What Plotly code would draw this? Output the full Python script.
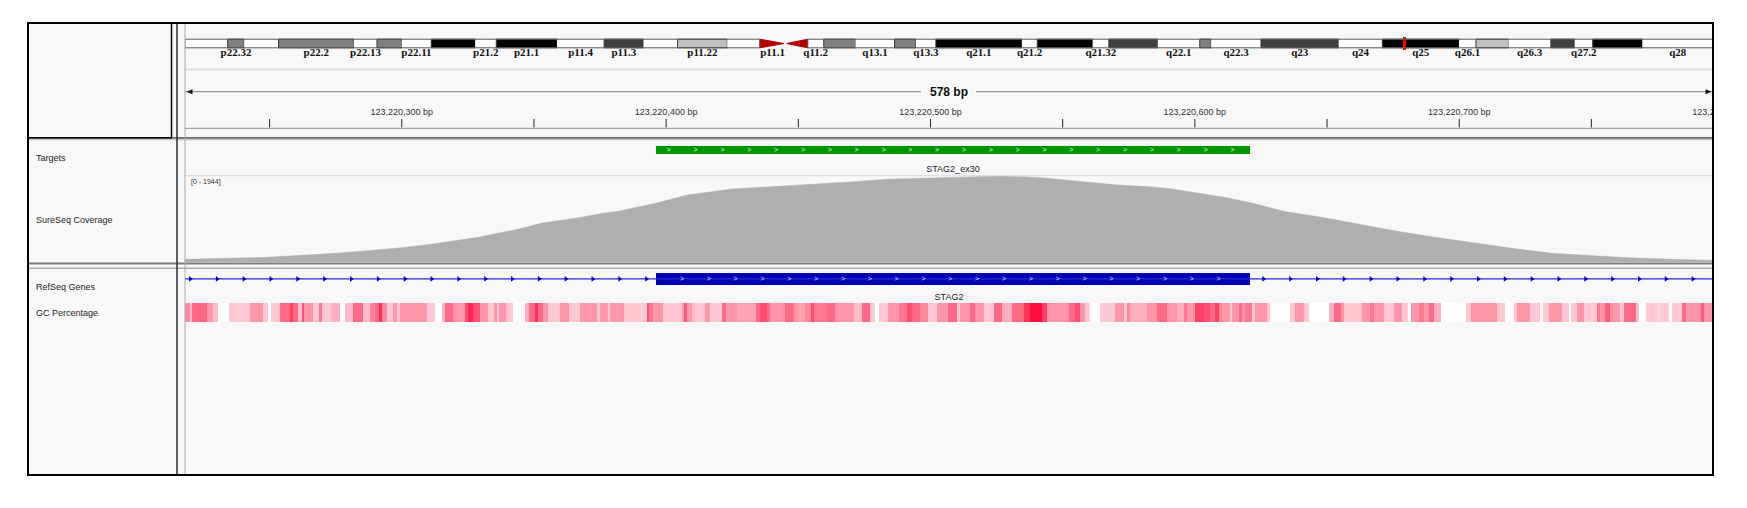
import numpy as np
import plotly.graph_objects as go

W, H = 1747, 508

# ---------------- data ----------------
VIEW_START = 123220218
VIEW_END = 123220796
CHROM_LEN = 156.0  # Mb, ideogram scale

# cytobands (Mb)
band_start = [0, 4.36, 6.05, 9.55, 17.25, 19.6, 22.13, 25.14, 29.63, 31.78,
              37.99, 42.79, 46.81, 50.29, 55.36, 58.69, 61.28, 63.57, 65.21, 68.45,
              72.44, 74.63, 76.66, 85.45, 87.01, 92.68, 94.32, 99.32, 103.6, 104.77,
              109.85, 117.78, 122.24, 130.08, 131.8, 135.12, 139.45, 141.88, 143.72, 148.79]
band_stain = ['gneg', 'gpos50', 'gneg', 'gpos50', 'gneg', 'gpos50', 'gneg', 'gpos100', 'gneg', 'gpos100',
              'gneg', 'gpos75', 'gneg', 'gpos25', 'gneg', 'acen', 'acen', 'gneg', 'gpos50', 'gneg',
              'gpos50', 'gneg', 'gpos100', 'gneg', 'gpos100', 'gneg', 'gpos75', 'gneg', 'gpos50', 'gneg',
              'gpos75', 'gneg', 'gpos100', 'gneg', 'gpos25', 'gneg', 'gpos75', 'gneg', 'gpos100', 'gneg']
band_name = ['', 'p22.32', '', 'p22.2', 'p22.13', '', 'p22.11', '', 'p21.2', 'p21.1',
             'p11.4', 'p11.3', '', 'p11.22', '', 'p11.1', '', 'q11.2', '', 'q13.1',
             '', 'q13.3', 'q21.1', 'q21.2', '', 'q21.32', '', 'q22.1', '', 'q22.3',
             'q23', 'q24', 'q25', 'q26.1', '', 'q26.3', '', 'q27.2', '', 'q28']
band_end = band_start[1:] + [CHROM_LEN]
locus_marker = [124.3, 124.7]

# coverage (offset from view start in bp, depth)
COV_MAX = 1944
cov_offset = [0, 10, 20, 31, 46, 57, 69, 75, 82, 93, 98, 111, 115, 126, 135, 149, 157, 164, 178, 190,
              207, 222, 236, 253, 265, 280, 294, 309, 323, 337, 352, 365, 372, 380, 394, 404, 416, 430,
              444, 458, 474, 488, 502, 517, 531, 546, 560, 578]
cov_value = [60, 75, 84, 106, 158, 196, 255, 287, 323, 400, 440, 560, 610, 740, 880, 1001, 1092, 1150, 1327, 1514,
             1650, 1702, 1763, 1815, 1869, 1900, 1925, 1944, 1910, 1835, 1745, 1702, 1660, 1589, 1453, 1327, 1140, 1010,
             850, 700, 549, 422, 310, 196, 142, 97, 68, 35]

# features
target_name = "STAG2_ex30"
target_start, target_end = 123220396, 123220621
gene_name = "STAG2"
exon_start, exon_end = 123220396, 123220621

# GC percentage segments (offset from view start in bp, shade level 0..1; 0 = no colour)
gc_offset = [0, 1.9, 2.5, 8.2, 10.7, 12.4, 16.6, 24.6, 29.6, 31.5, 32.5, 35.9, 39.7, 41.0, 42.9, 44.1, 45.0,
             48.6, 50.8, 52.0, 55.5, 58.7, 60.5, 63.7, 67.5, 70.0, 71.9, 73.5, 74.7, 76.3, 78.8, 80.1, 81.4,
             91.4, 94.6, 97.1, 98.4, 101.5, 105.9, 107.2, 109.1, 111.6, 114.8, 116.7, 117.9, 118.6, 121.5,
             123.9, 128.7, 130.3, 132.4, 133.7, 135.6, 137.5, 141.9, 145.1, 149.5, 155.8, 157.0, 159.9, 160.8,
             165.9, 174.7, 175.7, 176.9, 181.0, 187.9, 188.8, 189.8, 191.8, 193.0, 196.8, 198.7, 203.1, 204.7,
             208.7, 216.1, 217.6, 220.1, 221.4, 227.0, 230.2, 232.1, 234.6, 236.8, 238.0, 242.8, 246.0, 252.9,
             256.1, 259.2, 261.1, 262.4, 266.1, 269.9, 273.1, 275.0, 278.1, 280.9, 284.4, 288.8, 292.0, 293.3,
             297.0, 298.9, 302.1, 305.9, 309.0, 312.8, 317.2, 319.8, 324.2, 326.1, 334.3, 336.8, 338.7, 340.6,
             342.2, 346.2, 351.9, 355.1, 356.3, 357.6, 363.9, 367.7, 371.5, 375.2, 377.8, 379.0, 382.2, 385.3,
             387.9, 389.8, 391.0, 392.3, 395.4, 396.1, 398.6, 399.9, 401.1, 403.6, 404.9, 409.3, 410.6, 418.1,
             420.0, 423.2, 425.1, 432.6, 434.5, 437.1, 438.3, 445.3, 448.4, 449.7, 453.5, 457.2, 460.4, 462.5,
             463.8, 466.7, 468.6, 470.5, 472.4, 475.1, 484.4, 486.5, 496.3, 499.5, 502.6, 503.9, 508.7, 512.7,
             513.7, 515.9, 520.9, 523.5, 524.3, 526.4, 529.1, 534.2, 535.4, 537.3, 539.0, 542.8, 544.3, 548.7,
             550.0, 552.5, 556.9, 558.2, 561.3, 562.6, 566.4, 567.6, 573.3, 574.6]
gc_level = [.5, .3, .6, .45, .3, 0, .25, .45, .25, 0, .25, .6, .75, .6, .3, .7, .45,
            .25, .55, .25, .35, 0, .3, .6, .3, .5, .6, .8, .5, .25, .45, .25, .45,
            .25, 0, .35, .6, .45, .7, .85, .7, .45, .25, .45, .25, .45, .25,
            0, .35, .6, .8, .6, .45, .25, .45, .25, .45, .25, .45, .25, .45,
            .25, .7, .55, .45, .25, .45, .65, .45, .3, .25, .45, .25, .6, .45,
            .4, .6, .7, .6, .45, .6, .45, .4, .5, .7, .55, .6, .45, .3,
            .6, .25, 0, .25, .45, .55, .7, .6, .5, .25, .45, .6, .25, .45,
            .6, .45, .25, .6, .35, .6, .8, .95, .75, .45, .6, .7, .45, .25,
            0, .25, .45, .25, .5, .35, .45, .6, .45, .35, .55, .45, .75, .7,
            .6, .75, .5, .45, .25, .45, .6, .45, .55, .25, .45, .25, 0, .25,
            .45, .25, 0, .35, .6, .45, .25, .45, .55, .45, .25, .45, .25, 0,
            .45, .55, .45, .6, .35, 0, .25, .45, .25, 0, .25, .45, .25, 0,
            .25, .45, .25, 0, .25, .45, .25, .55, .45, .65, .45, .25, .6, .3,
            0, .25, .2, .25, 0, .25, .6, .45, .65, .45]

track_names = ["Targets", "SureSeq Coverage", "RefSeq Genes", "GC Percentage"]

# ---------------- layout helpers ----------------
def px_x(p):
    return p / W


def px_y(p):
    return 1 - p / H


DATA_L, DATA_R = 185, 1713
BOX_L, BOX_R, BOX_T, BOX_B = 28, 1713, 23, 475
BG = '#f8f8f8'
SANS = 'Liberation Sans, Arial, sans-serif'

IDEO_T, IDEO_B = 39.2, 47.8
IDEO_C = (IDEO_T + IDEO_B) / 2

fig = go.Figure()

# ---------------- ideogram ----------------
stain_color = {'gneg': '#ffffff', 'gpos25': '#c0c0c0', 'gpos50': '#808080',
               'gpos75': '#404040', 'gpos100': '#000000'}
idx = [i for i, s in enumerate(band_stain) if s != 'acen']
fig.add_trace(go.Bar(
    orientation='h',
    base=[band_start[i] for i in idx],
    x=[band_end[i] - band_start[i] for i in idx],
    y=[IDEO_C] * len(idx), width=IDEO_B - IDEO_T,
    marker=dict(color=[stain_color[band_stain[i]] for i in idx],
                line=dict(color=['rgba(0,0,0,0)' if band_stain[i] == 'gneg' else '#383838' for i in idx],
                          width=1)),
    xaxis='x2', yaxis='y', hoverinfo='skip'))

acen = [i for i, s in enumerate(band_stain) if s == 'acen']
p_cen, q_cen = acen[0], acen[1]
fig.add_trace(go.Scatter(
    x=[band_start[p_cen], band_end[p_cen] - 0.15, band_start[p_cen], band_start[p_cen], None,
       band_end[q_cen], band_start[q_cen] + 0.15, band_end[q_cen], band_end[q_cen]],
    y=[IDEO_T, IDEO_C, IDEO_B, IDEO_T, None, IDEO_T, IDEO_C, IDEO_B, IDEO_T],
    mode='lines', fill='toself', fillcolor='#b40000', line=dict(color='#b40000', width=1),
    xaxis='x2', yaxis='y', hoverinfo='skip'))

fig.add_trace(go.Bar(
    orientation='h', base=[locus_marker[0]], x=[locus_marker[1] - locus_marker[0]],
    y=[IDEO_C], width=13, marker=dict(color='#ff0000', line=dict(width=0)),
    xaxis='x2', yaxis='y', hoverinfo='skip'))

lab_idx = [i for i, n in enumerate(band_name) if n]
fig.add_trace(go.Scatter(
    x=[(band_start[i] + band_end[i]) / 2 for i in lab_idx], y=[53.5] * len(lab_idx),
    mode='text', text=['<b>' + band_name[i] + '</b>' for i in lab_idx],
    textfont=dict(family='Liberation Serif, DejaVu Serif, serif', size=11, color='#111111'),
    textposition='middle center', xaxis='x2', yaxis='y', hoverinfo='skip', cliponaxis=True))

# ---------------- ruler ----------------
tick_pos = np.arange(int(np.ceil(VIEW_START / 50) * 50), VIEW_END + 1, 50)
tx, ty = [], []
for p in tick_pos:
    tx += [p, p, None]
    ty += [119, 127.5, None]
fig.add_trace(go.Scatter(x=tx, y=ty, mode='lines', line=dict(color='#222222', width=1),
                         xaxis='x', yaxis='y', hoverinfo='skip'))
lab_pos = np.arange(int(np.ceil(VIEW_START / 100) * 100), VIEW_END + 100, 100)
fig.add_trace(go.Scatter(
    x=lab_pos, y=[112.3] * len(lab_pos), mode='text',
    text=[f"{int(p):,} bp" for p in lab_pos],
    textfont=dict(family=SANS, size=9, color='#333333'), textposition='middle center',
    cliponaxis=True, xaxis='x', yaxis='y', hoverinfo='skip'))

# ---------------- targets ----------------
fig.add_trace(go.Bar(
    orientation='h', base=[target_start], x=[target_end - target_start], y=[150.2], width=8.4,
    marker=dict(color='#009600', line=dict(width=0)), xaxis='x', yaxis='y', hoverinfo='skip'))
chev_t = np.arange(target_start + 5, target_end - 2, 10.15)
fig.add_trace(go.Scatter(x=chev_t, y=[150.4] * len(chev_t), mode='text', text=['>'] * len(chev_t),
                         textfont=dict(family=SANS, size=7, color='#e8ffe8'),
                         xaxis='x', yaxis='y', hoverinfo='skip'))
fig.add_trace(go.Scatter(x=[(target_start + target_end) / 2], y=[169.3], mode='text', text=[target_name],
                         textfont=dict(family=SANS, size=9, color='#222222'),
                         xaxis='x', yaxis='y', hoverinfo='skip'))

# ---------------- coverage ----------------
fig.add_trace(go.Scatter(
    x=[VIEW_START + o for o in cov_offset], y=cov_value, mode='lines', fill='tozeroy',
    line=dict(width=0.5, color='#afafaf'), fillcolor='#afafaf',
    xaxis='x', yaxis='y2', hoverinfo='skip'))

# ---------------- gene ----------------
GENE_Y = 278.9
fig.add_trace(go.Scatter(x=[VIEW_START, VIEW_END], y=[GENE_Y, GENE_Y], mode='lines',
                         line=dict(color='#2828e0', width=1.2), xaxis='x', yaxis='y', hoverinfo='skip'))
arr = np.arange(VIEW_START + 2, VIEW_END, 10.15)
arr = arr[(arr < exon_start - 2) | (arr > exon_end + 2)]
fig.add_trace(go.Scatter(x=arr, y=[GENE_Y] * len(arr), mode='markers',
                         marker=dict(symbol='triangle-right', size=5, color='#0000c8', line=dict(width=0)),
                         xaxis='x', yaxis='y', hoverinfo='skip'))
fig.add_trace(go.Bar(
    orientation='h', base=[exon_start], x=[exon_end - exon_start], y=[GENE_Y], width=12.8,
    marker=dict(color='#0000b2', line=dict(width=0)), xaxis='x', yaxis='y', hoverinfo='skip'))
chev_e = np.arange(exon_start + 10, exon_end - 2, 10.15)
fig.add_trace(go.Scatter(x=chev_e, y=[GENE_Y + 0.2] * len(chev_e), mode='text', text=['>'] * len(chev_e),
                         textfont=dict(family=SANS, size=7, color='#e0e0ff'),
                         xaxis='x', yaxis='y', hoverinfo='skip'))
fig.add_trace(go.Scatter(x=[(VIEW_START + VIEW_END) / 2], y=[297.7], mode='text', text=[gene_name],
                         textfont=dict(family=SANS, size=9, color='#222222'),
                         xaxis='x', yaxis='y', hoverinfo='skip'))

# ---------------- GC percentage ----------------
gc_edges = [VIEW_START + o for o in gc_offset] + [VIEW_END]
fig.add_trace(go.Heatmap(
    x=gc_edges, y=[303, 321.8], z=[gc_level], zmin=0, zmax=1, showscale=False,
    colorscale=[[0, '#ffffff'], [0.2, 'rgb(255,214,222)'], [0.25, 'rgb(255,200,211)'],
                [0.45, 'rgb(255,150,170)'], [0.6, 'rgb(255,105,135)'],
                [0.8, 'rgb(255,50,90)'], [1, 'rgb(255,0,50)']],
    xaxis='x', yaxis='y', hoverinfo='skip'))

# ---------------- chrome ----------------
shapes = []


def hline(y, x0, x1, color, width):
    shapes.append(dict(type='line', xref='paper', yref='paper', x0=px_x(x0), x1=px_x(x1),
                       y0=px_y(y), y1=px_y(y), line=dict(color=color, width=width), layer='above'))


def vline(x, y0, y1, color, width):
    shapes.append(dict(type='line', xref='paper', yref='paper', x0=px_x(x), x1=px_x(x),
                       y0=px_y(y0), y1=px_y(y1), line=dict(color=color, width=width), layer='above'))


shapes.append(dict(type='rect', xref='paper', yref='paper', x0=px_x(BOX_L), x1=px_x(BOX_R),
                   y0=px_y(BOX_B), y1=px_y(BOX_T), fillcolor=BG, line=dict(width=0), layer='below'))
# ideogram outline (two arms)
for a0, a1 in [(0, band_start[p_cen]), (band_end[q_cen], CHROM_LEN)]:
    shapes.append(dict(type='rect', xref='x2', yref='y', x0=a0, x1=a1, y0=IDEO_T, y1=IDEO_B,
                       line=dict(color='#5a5a5a', width=1), layer='above'))
hline(69.6, DATA_L, DATA_R, '#dcdce6', 2)
hline(91.7, DATA_L, 921, '#808080', 1)
hline(91.7, 976, DATA_R, '#808080', 1)
for tip, back in [(DATA_L + 1.5, DATA_L + 7.5), (DATA_R - 1.5, DATA_R - 7.5)]:
    shapes.append(dict(type='path', xref='paper', yref='paper',
                       path=f"M {px_x(tip)},{px_y(91.7)} L {px_x(back)},{px_y(89.2)} L {px_x(back)},{px_y(94.2)} Z",
                       fillcolor='#111111', line=dict(width=0), layer='above'))
hline(128.3, DATA_L, DATA_R, '#8c8c8c', 1)
hline(137.8, BOX_L, BOX_R, '#6c6c6c', 1.8)
hline(139.7, BOX_L, BOX_R, '#b4b4b4', 1)
hline(175.7, DATA_L, DATA_R, '#d8d8e2', 1)
hline(263.6, BOX_L, BOX_R, '#7c7c7c', 2)
hline(268.2, BOX_L, BOX_R, '#adadad', 1.5)
vline(DATA_L, BOX_T, BOX_B, '#aaaaaa', 1)
vline(177, BOX_T, BOX_B, '#2e2e2e', 1.5)
shapes.append(dict(type='rect', xref='paper', yref='paper', x0=px_x(BOX_L), x1=px_x(171.5),
                   y0=px_y(137.8), y1=px_y(BOX_T), line=dict(color='#000000', width=1.5), layer='above'))
shapes.append(dict(type='rect', xref='paper', yref='paper', x0=px_x(BOX_L), x1=px_x(BOX_R),
                   y0=px_y(BOX_B), y1=px_y(BOX_T), line=dict(color='#000000', width=2), layer='above'))

annotations = [
    dict(x=px_x((DATA_L + DATA_R) / 2), y=px_y(91.7), xref='paper', yref='paper',
         text=f"<b>{VIEW_END - VIEW_START} bp</b>", showarrow=False, bgcolor=BG, borderpad=3,
         font=dict(family=SANS, size=12, color='#111111'), xanchor='center', yanchor='middle'),
    dict(x=px_x(188.5), y=px_y(181.8), xref='paper', yref='paper', text=f"[0 - {COV_MAX}]",
         showarrow=False, font=dict(family=SANS, size=7, color='#333333'), xanchor='left', yanchor='middle'),
]
for name, yy in zip(track_names, [158.3, 220.3, 286.7, 313.2]):
    annotations.append(dict(x=px_x(34), y=px_y(yy), xref='paper', yref='paper', text=name, showarrow=False,
                            font=dict(family=SANS, size=9, color='#1e1e1e'), xanchor='left', yanchor='middle'))

fig.update_layout(
    width=W, height=H, margin=dict(l=0, r=0, t=0, b=0),
    paper_bgcolor='#ffffff', plot_bgcolor='rgba(0,0,0,0)',
    showlegend=False, barmode='overlay', bargap=0,
    xaxis=dict(domain=[px_x(DATA_L), px_x(DATA_R)], range=[VIEW_START, VIEW_END], visible=False,
               anchor='y', fixedrange=True),
    xaxis2=dict(domain=[px_x(DATA_L), px_x(DATA_R)], range=[0, CHROM_LEN], visible=False,
                anchor='y', fixedrange=True),
    yaxis=dict(domain=[0, 1], range=[H, 0], visible=False, anchor='x', fixedrange=True),
    yaxis2=dict(domain=[px_y(262), px_y(176)], range=[0, COV_MAX], visible=False, anchor='x',
                fixedrange=True),
    shapes=shapes, annotations=annotations,
)

fig.write_html("out.html", config={'displayModeBar': False, 'staticPlot': True},
               post_script="document.body.style.margin='0px';")
